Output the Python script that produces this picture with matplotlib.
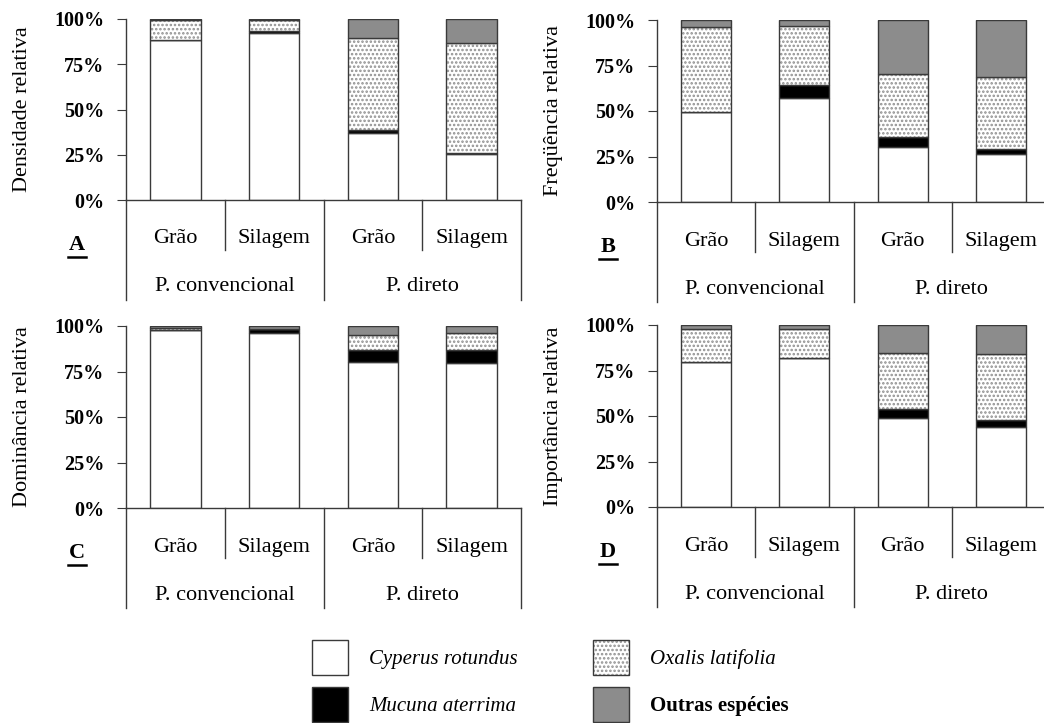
import matplotlib
matplotlib.use('Agg')
import matplotlib.pyplot as plt
from matplotlib.patches import Patch
from matplotlib.lines import Line2D
from matplotlib.legend_handler import HandlerTuple
import numpy as np

plt.rcParams['font.family'] = ['Liberation Serif', 'DejaVu Serif']
plt.rcParams['hatch.linewidth'] = 1.2

sistemas = ['P. convencional', 'P. direto']
culturas = ['Grão', 'Silagem', 'Grão', 'Silagem']
especies = ['Cyperus rotundus', 'Mucuna aterrima', 'Oxalis latifolia', 'Outras espécies']

# valores (%) por painel: linhas = espécies, colunas = tratamentos
densidade = {
    'Cyperus rotundus': [88.4, 92.3, 36.8, 25.4],
    'Mucuna aterrima': [0.0, 0.9, 1.9, 0.6],
    'Oxalis latifolia': [11.0, 6.2, 50.6, 60.9],
    'Outras espécies': [0.6, 0.6, 10.7, 13.1],
}
frequencia = {
    'Cyperus rotundus': [49.2, 57.2, 30.1, 26.1],
    'Mucuna aterrima': [0.4, 7.0, 5.5, 2.9],
    'Oxalis latifolia': [46.7, 32.5, 34.7, 39.8],
    'Outras espécies': [3.7, 3.3, 29.7, 31.2],
}
dominancia = {
    'Cyperus rotundus': [97.6, 96.2, 80.3, 79.7],
    'Mucuna aterrima': [0.0, 2.0, 6.4, 7.3],
    'Oxalis latifolia': [1.5, 0.3, 8.6, 9.2],
    'Outras espécies': [0.9, 1.5, 4.7, 3.8],
}
importancia = {
    'Cyperus rotundus': [79.5, 82.0, 48.7, 44.1],
    'Mucuna aterrima': [0.3, 0.0, 5.0, 3.5],
    'Oxalis latifolia': [18.2, 16.0, 31.1, 36.5],
    'Outras espécies': [2.0, 2.0, 15.2, 15.9],
}

paineis = [
    ('A', 'Densidade relativa', densidade),
    ('B', 'Freqüência relativa', frequencia),
    ('C', 'Dominância relativa', dominancia),
    ('D', 'Importância relativa', importancia),
]

estilo = {
    'Cyperus rotundus': dict(color='white', hatch=None),
    'Mucuna aterrima': dict(color='black', hatch=None),
    'Oxalis latifolia': dict(color='white', hatch='....'),
    'Outras espécies': dict(color='#8c8c8c', hatch=None),
}

W, H = 1044, 723
fig = plt.figure(figsize=(W / 100, H / 100), dpi=100)

# [left, bottom, right, top] em pixels
caixas = [(126, 200, 521, 19), (657, 202, 1050, 20), (126, 508, 521, 326), (657, 507, 1050, 325)]
ec = '#3a3a3a'
hc = '#909090'

for (letra, titulo, dados), (l, b, r, t) in zip(paineis, caixas):
    ax = fig.add_axes([l / W, 1 - b / H, (r - l) / W, (b - t) / H])
    x = np.arange(len(culturas))
    base = np.zeros(len(culturas))
    for esp in especies:
        v = np.array(dados[esp]) / 100
        st = estilo[esp]
        if st['hatch']:
            ax.bar(x, v, 0.51, bottom=base, color=st['color'], hatch=st['hatch'],
                   edgecolor=hc, linewidth=0)
            ax.bar(x, v, 0.51, bottom=base, fill=False, edgecolor=ec, linewidth=1.0)
        else:
            ax.bar(x, v, 0.51, bottom=base, color=st['color'], edgecolor=ec, linewidth=1.0)
        base += v
    ax.set_xlim(-0.5, 3.5)
    ax.set_ylim(0, 1)
    ax.set_yticks([0, 0.25, 0.5, 0.75, 1.0])
    ax.set_yticklabels(['0%', '25%', '50%', '75%', '100%'], fontsize=14.5, fontweight='bold')
    ax.set_xticks([])
    for s in ['top', 'right']:
        ax.spines[s].set_visible(False)
    for s in ['left', 'bottom']:
        ax.spines[s].set_color(ec)
        ax.spines[s].set_linewidth(1.0)
    ax.tick_params(axis='y', length=6.5, color=ec, pad=9)
    ax.set_ylabel(titulo, fontsize=16, labelpad=16)

    tr = ax.get_xaxis_transform()
    for xd, y2 in [(-0.5, -0.55), (0.5, -0.276), (1.5, -0.55), (2.5, -0.276), (3.5, -0.55)]:
        ax.add_line(Line2D([xd, xd], [0, y2], transform=tr, color=ec, lw=1.0, clip_on=False))
    for i, c in enumerate(culturas):
        ax.text(i, -0.215, c, transform=tr, ha='center', va='center', fontsize=16)
    for i, s in enumerate(sistemas):
        ax.text(0.5 + 2 * i, -0.48, s, transform=tr, ha='center', va='center', fontsize=16)

    xl = (l - 49) / W
    yl = 1 - (b + 45) / H
    fig.text(xl, yl, letra, ha='center', va='center', fontsize=16, fontweight='bold')
    fig.add_artist(Line2D([xl - 9 / W, xl + 9 / W], [yl - 12 / H, yl - 12 / H], color='black', lw=1.8))

handles = []
for esp in especies:
    st = estilo[esp]
    if st['hatch']:
        handles.append((Patch(facecolor='white', hatch=st['hatch'], edgecolor=hc, linewidth=0),
                        Patch(fill=False, edgecolor=ec, linewidth=1.0)))
    else:
        handles.append(Patch(facecolor=st['color'], edgecolor=ec, linewidth=1.0))
leg = fig.legend(handles=handles, labels=especies, ncol=2, loc='upper left',
                 bbox_to_anchor=(293 / W, 1 - 621 / H), handler_map={tuple: HandlerTuple(ndivide=1)},
                 frameon=False, fontsize=15, handlelength=1.75, handleheight=2.2,
                 handletextpad=1.0, columnspacing=3.6, labelspacing=0.58)
for txt in leg.get_texts():
    if txt.get_text() == 'Outras espécies':
        txt.set_fontweight('bold')
    else:
        txt.set_fontstyle('italic')

fig.savefig('out.png', dpi=100)
